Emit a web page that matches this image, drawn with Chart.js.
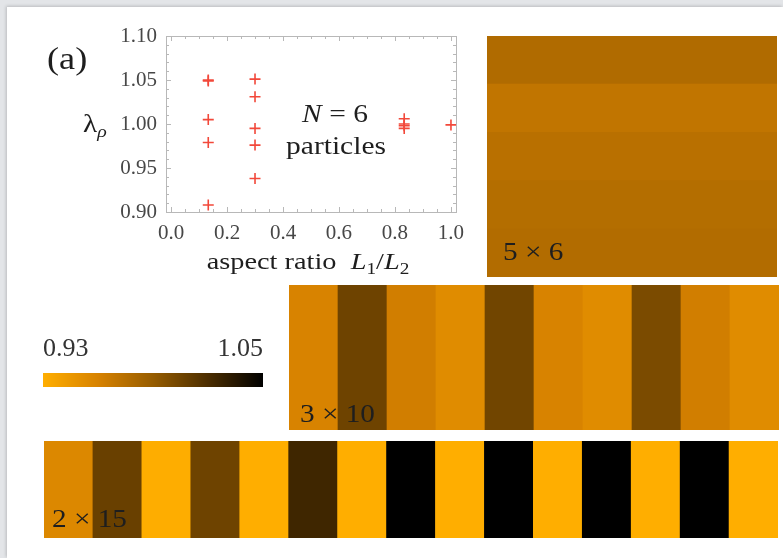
<!DOCTYPE html>
<html>
<head>
<meta charset="utf-8">
<script src="https://cdn.jsdelivr.net/npm/chart.js@4.4.1/dist/chart.umd.min.js"></script>
<style>
  html, body { margin: 0; padding: 0; }
  body {
    width: 783px; height: 558px; position: relative; overflow: hidden;
    background: #e3e5e8; font-family: "Liberation Serif", "DejaVu Serif", serif;
  }
  .sheet {
    position: absolute; left: 7px; top: 7px; right: 0; bottom: 0;
    background: #fff; box-shadow: -1px -1px 3px rgba(0,0,0,0.18);
  }
  canvas { position: absolute; display: block; }
  .lbl {
    position: absolute; color: #1e1e1e; white-space: nowrap; line-height: 1;
    transform-origin: 0 0; transform: scaleX(1.17);
  }
  .lbl sub { font-size: 0.68em; vertical-align: -0.3em; line-height: 0; }
  .ctr { transform-origin: 50% 0; transform: translateX(-50%) scaleX(1.18); text-align: center; }
</style>
</head>
<body>
<div class="sheet"></div>

<canvas id="scatter" width="480" height="290" style="left:0;top:0"></canvas>
<canvas id="grid5x6" width="290" height="241" style="left:487px;top:36px"></canvas>
<canvas id="grid3x10" width="490" height="145" style="left:289px;top:285px"></canvas>
<canvas id="grid2x15" width="734" height="97" style="left:44px;top:441px"></canvas>
<canvas id="colorbar" width="245" height="62" style="left:35px;top:330px"></canvas>

<div class="lbl" style="left:47px;top:43px;font-size:31px">(a)</div>
<div class="lbl" style="left:83px;top:111px;font-size:25px">&lambda;<sub><i>&rho;</i></sub></div>
<div class="lbl ctr" style="left:335px;top:101px;font-size:25px"><i>N</i> = 6</div>
<div class="lbl ctr" style="left:336px;top:133px;font-size:25px">particles</div>
<div class="lbl ctr" style="left:308px;top:249px;font-size:24px">aspect ratio&nbsp; <i>L</i><sub>1</sub>/<i>L</i><sub>2</sub></div>
<div class="lbl" style="left:503px;top:239px;font-size:25px">5 &times; 6</div>
<div class="lbl" style="left:300px;top:401px;font-size:25px">3 &times; 10</div>
<div class="lbl" style="left:52px;top:506px;font-size:25px">2 &times; 15</div>

<script>
  // lambda_rho against aspect ratio, one column of points per lattice shape
  const aspectRatios = [0.133, 0.300, 0.833, 1.000];
  const lambdaCol1 = [1.050, 1.049, 1.005, 0.979, 0.908];
  const lambdaCol2 = [1.051, 1.031, 0.995, 0.976, 0.938];
  const lambdaCol3 = [1.006, 1.000, 0.998, 0.995];
  const lambdaCol4 = [0.999];

  const xTicks = [0.0, 0.2, 0.4, 0.6, 0.8, 1.0];
  const yTicks = [0.90, 0.95, 1.00, 1.05, 1.10];

  // local lambda per cell (rows top to bottom, columns left to right)
  const rows5x6 = [0.978, 0.970, 0.974, 0.976, 0.977];
  const cols3x10 = [0.959, 1.006, 0.963, 0.953, 1.005, 0.959, 0.953, 1.001, 0.963, 0.953];
  const cols2x15 = [0.956, 1.008, 0.931, 1.006, 0.930, 1.025, 0.930, 1.050,
                    0.930, 1.050, 0.930, 1.050, 0.930, 1.050, 0.930];

  // colour scale
  const lamMin = 0.93;
  const lamMax = 1.05;
  const scaleStops = [0, 0.25, 0.5, 0.75, 1];
  const scaleRgb = [[255, 174, 0], [215, 130, 0], [150, 92, 0], [75, 45, 0], [0, 0, 0]];

  const SERIF = '"Liberation Serif", "DejaVu Serif", serif';
  const FRAME = '#b8b8b8';
  const X_MIN = -0.018, X_MAX = 1.018;

  function lambdaColor(v) {
    const t = Math.min(1, Math.max(0, (v - lamMin) / (lamMax - lamMin)));
    let i = 0;
    while (i < scaleStops.length - 2 && t > scaleStops[i + 1]) i++;
    const f = (t - scaleStops[i]) / (scaleStops[i + 1] - scaleStops[i]);
    const a = scaleRgb[i], b = scaleRgb[i + 1];
    const c = a.map(function (ch, k) { return Math.round(ch + (b[k] - ch) * f); });
    return 'rgb(' + c.join(',') + ')';
  }

  function fixedTicks(values) {
    return function (scale) {
      scale.ticks = values.map(function (v) { return { value: v }; });
    };
  }

  // small inward ticks on all four sides of the frame
  const frameTicks = {
    id: 'frameTicks',
    beforeDatasetsDraw(chart) {
      const { ctx, chartArea: a, scales: { x, y } } = chart;
      ctx.save();
      ctx.strokeStyle = FRAME;
      ctx.lineWidth = 1;
      ctx.beginPath();
      for (let k = 0; k <= 20; k++) {
        const px = Math.round(x.getPixelForValue(k * 0.05)) + 0.5;
        const len = k % 4 === 0 ? 5 : 3;
        ctx.moveTo(px, a.bottom); ctx.lineTo(px, a.bottom - len);
        ctx.moveTo(px, a.top); ctx.lineTo(px, a.top + len);
      }
      for (let k = 0; k <= 20; k++) {
        const py = Math.round(y.getPixelForValue(0.90 + k * 0.01)) + 0.5;
        const len = k % 5 === 0 ? 5 : 3;
        ctx.moveTo(a.left, py); ctx.lineTo(a.left + len, py);
        ctx.moveTo(a.right, py); ctx.lineTo(a.right - len, py);
      }
      ctx.stroke();
      ctx.restore();
    }
  };

  function columnPoints(x, lams) {
    return lams.map(function (l) { return { x: x, y: l }; });
  }

  const points = [].concat(
    columnPoints(aspectRatios[0], lambdaCol1),
    columnPoints(aspectRatios[1], lambdaCol2),
    columnPoints(aspectRatios[2], lambdaCol3),
    columnPoints(aspectRatios[3], lambdaCol4)
  );

  const tickFont = { family: SERIF, size: 21 };

  new Chart(document.getElementById('scatter'), {
    type: 'scatter',
    data: {
      datasets: [{
        data: points,
        pointStyle: 'cross',
        pointRadius: 5.5,
        pointBorderColor: '#f2483a',
        pointBorderWidth: 1.6
      }]
    },
    options: {
      responsive: false,
      animation: false,
      layout: { padding: 0 },
      plugins: { legend: { display: false }, tooltip: { enabled: false } },
      scales: {
        x: {
          type: 'linear', position: 'bottom', min: X_MIN, max: X_MAX,
          afterBuildTicks: fixedTicks(xTicks),
          afterFit: function (s) { s.height = 78; },
          grid: { display: false },
          border: { color: FRAME },
          ticks: {
            font: tickFont, color: '#474747', padding: 1,
            callback: function (v) { return v.toFixed(1); }
          }
        },
        y: {
          type: 'linear', position: 'left', min: 0.9, max: 1.1,
          afterBuildTicks: fixedTicks(yTicks),
          afterFit: function (s) { s.width = 166; },
          grid: { display: false },
          border: { color: FRAME },
          ticks: {
            font: tickFont, color: '#474747', padding: 1,
            callback: function (v) { return v.toFixed(2); }
          }
        },
        x2: {
          type: 'linear', axis: 'x', position: 'top', min: X_MIN, max: X_MAX,
          afterFit: function (s) { s.height = 36; },
          grid: { display: false },
          border: { color: FRAME },
          ticks: { display: false }
        },
        y2: {
          type: 'linear', axis: 'y', position: 'right', min: 0.9, max: 1.1,
          afterFit: function (s) { s.width = 24; },
          grid: { display: false },
          border: { color: FRAME },
          ticks: { display: false }
        }
      }
    },
    plugins: [frameTicks]
  });

  // one filled cell per value, coloured by lambda
  function stripeChart(id, values, asRows) {
    const hidden = { display: false };
    const valueAxis = { display: false, min: 0, max: 1 };
    return new Chart(document.getElementById(id), {
      type: 'bar',
      data: {
        labels: values.map(function (v, i) { return String(i + 1); }),
        datasets: [{
          data: values.map(function () { return 1; }),
          backgroundColor: values.map(lambdaColor),
          borderWidth: 0,
          barPercentage: 1,
          categoryPercentage: 1
        }]
      },
      options: {
        indexAxis: asRows ? 'y' : 'x',
        responsive: false,
        animation: false,
        layout: { padding: 0 },
        plugins: { legend: { display: false }, tooltip: { enabled: false } },
        scales: asRows ? { x: valueAxis, y: hidden } : { x: hidden, y: valueAxis }
      }
    });
  }

  stripeChart('grid5x6', rows5x6, true);
  stripeChart('grid3x10', cols3x10, false);
  stripeChart('grid2x15', cols2x15, false);

  // colour bar: a single floating bar over [lamMin, lamMax] with a gradient fill
  new Chart(document.getElementById('colorbar'), {
    type: 'bar',
    data: {
      labels: ['lambda'],
      datasets: [{
        data: [[lamMin, lamMax]],
        barPercentage: 1,
        categoryPercentage: 1,
        borderWidth: 0,
        backgroundColor: function (c) {
          const chart = c.chart;
          if (!chart.chartArea) return lambdaColor(lamMin);
          const xs = chart.scales.x;
          const g = chart.ctx.createLinearGradient(
            xs.getPixelForValue(lamMin), 0, xs.getPixelForValue(lamMax), 0);
          scaleStops.forEach(function (s, i) {
            g.addColorStop(s, 'rgb(' + scaleRgb[i].join(',') + ')');
          });
          return g;
        }
      }]
    },
    options: {
      indexAxis: 'y',
      responsive: false,
      animation: false,
      layout: { padding: { left: 8, right: 17, top: 0, bottom: 5 } },
      plugins: { legend: { display: false }, tooltip: { enabled: false } },
      scales: {
        x: {
          type: 'linear', position: 'top', min: lamMin, max: lamMax,
          afterBuildTicks: fixedTicks([lamMin, lamMax]),
          afterFit: function (s) { s.height = 43; },
          grid: { display: false },
          border: { display: false },
          ticks: {
            align: 'inner', font: { family: SERIF, size: 26 }, color: '#333', padding: 0,
            callback: function (v) { return v.toFixed(2); }
          }
        },
        y: { display: false }
      }
    }
  });
</script>
</body>
</html>
